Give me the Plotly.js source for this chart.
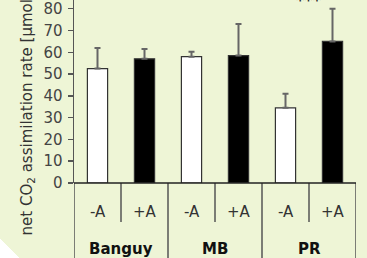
<!DOCTYPE html>
<html><head><meta charset="utf-8">
<script src="https://cdn.plot.ly/plotly-3.0.1.min.js"></script>
<style>
html,body{margin:0;padding:0;}
body{background:linear-gradient(45deg,#ffffff 14px,#eef5d6 14px);width:367px;height:258px;overflow:hidden;}
#chart{width:367px;height:258px;}
</style></head>
<body><div id="chart"></div>
<script>
const groups = ['Banguy','MB','PR'];
const treatments = ['-A','+A','-A','+A','-A','+A'];
const values = [52.5, 57, 58, 58.5, 34.5, 65];
const errors = [9.5, 4.5, 2.2, 14.5, 6.5, 15];
const barColors = ['#ffffff','#000000','#ffffff','#000000','#ffffff','#000000'];
const yTicks = [0,10,20,30,40,50,60,70,80];
const sigLabel = '***';

const xpos = treatments.map((_, i) => i);
const trace = {
  type: 'bar', x: xpos, y: values, width: 0.43,
  marker: {color: barColors, line: {color: '#333', width: 1.2}},
  error_y: {type: 'data', array: errors, symmetric: false, arrayminus: errors.map(()=>0),
            color: '#666', thickness: 2, width: 3},
  hoverinfo: 'none'
};
const font = {family: 'DejaVu Sans, sans-serif', size: 15, color: '#444'};
const annotations = [];
treatments.forEach((t, i) => annotations.push({
  x: i, y: -0.158, xref: 'x', yref: 'paper', text: t, showarrow: false, yanchor: 'middle', xanchor: 'center',
  font: {family: 'DejaVu Sans, sans-serif', size: 15, color: '#333'}
}));
groups.forEach((g, k) => annotations.push({
  x: 2*k + 0.5, y: -0.36, xref: 'x', yref: 'paper', text: '<b>' + g + '</b>', showarrow: false,
  yanchor: 'middle', xanchor: 'center',
  font: {family: 'DejaVu Sans, sans-serif', size: 15, color: '#111'}
}));
annotations.push({x: 4.5, y: 1, xref: 'x', yref: 'paper', text: '<b>' + sigLabel + '</b>', showarrow: false,
  yanchor: 'bottom', yshift: -12, font: {family: 'DejaVu Sans, sans-serif', size: 16, color: '#222'}});
annotations.push({x: -0.17, y: -0.30, xref: 'paper', yref: 'paper', text: 'net CO<sub>2</sub> assimilation rate [µmol m<sup>-2</sup> s<sup>-1</sup>]',
  showarrow: false, textangle: -90, xanchor: 'center', yanchor: 'bottom',
  font: {family: 'DejaVu Sans, sans-serif', size: 15, color: '#333'}});
const shapes = [];
for (let i = 0; i <= treatments.length; i++) {
  const long = (i % 2 === 0);
  shapes.push({type: 'line', xref: 'x', yref: 'paper', x0: i - 0.5, x1: i - 0.5,
    y0: 0, y1: long ? -0.45 : -0.213, line: {color: '#555', width: 1.5}});
}
shapes.push({type: 'line', xref: 'x', yref: 'paper', x0: -0.5, x1: 5.5, y0: 0, y1: 0, line: {color: '#222', width: 1.5}});
const layout = {
  width: 367, height: 258,
  margin: {l: 74, r: 11, t: 0, b: 75},
  paper_bgcolor: 'rgba(0,0,0,0)', plot_bgcolor: 'rgba(0,0,0,0)',
  showlegend: false, font: font,
  xaxis: {range: [-0.5, 5.5], showticklabels: false, ticks: '', showgrid: false, zeroline: false, showline: false, fixedrange: true},
  yaxis: {range: [0, 84], tickvals: yTicks, ticks: 'outside', ticklen: 5, tickwidth: 1.5, tickcolor: '#555',
          showline: true, linecolor: '#555', linewidth: 1.5, showgrid: false, zeroline: false,
          tickfont: font, ticklabelstandoff: 2, ticklabeloverflow: 'allow'},
  annotations: annotations, shapes: shapes
};
Plotly.newPlot('chart', [trace], layout, {staticPlot: true, displayModeBar: false});
</script></body></html>
